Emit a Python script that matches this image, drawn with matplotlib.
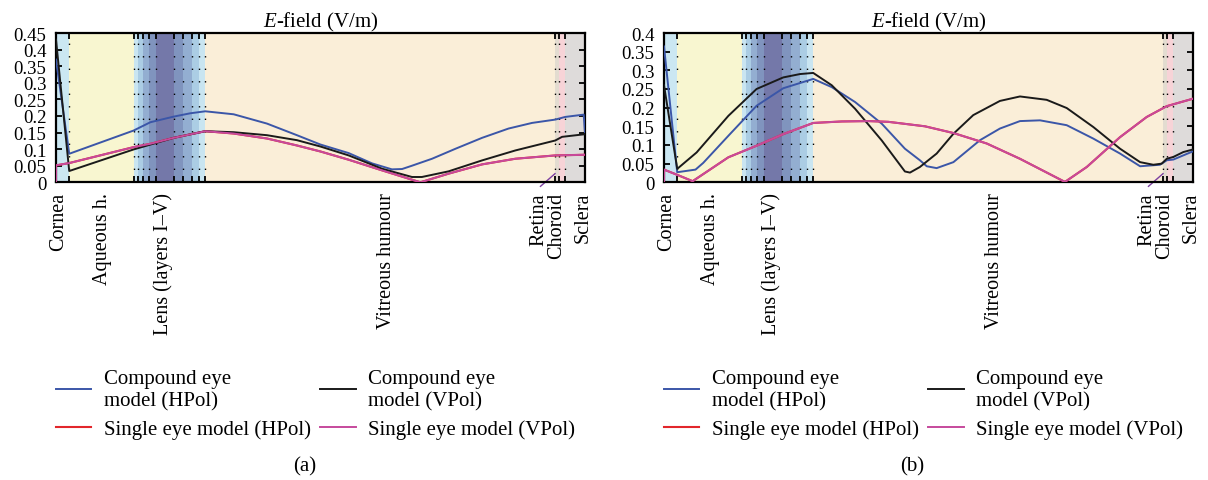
import matplotlib
matplotlib.use("Agg")
import matplotlib.pyplot as plt
import matplotlib.transforms as mtransforms

plt.rcParams['font.family'] = ['Liberation Serif', 'DejaVu Serif']
plt.rcParams['mathtext.fontset'] = 'custom'
plt.rcParams['mathtext.rm'] = 'Liberation Serif'
plt.rcParams['mathtext.it'] = 'Liberation Serif:italic'

# layer boundaries along the eye (mm)
bounds = [0, 0.60, 3.52, 3.71, 3.95, 4.20, 4.53, 5.36, 5.78, 6.17, 6.47, 6.77,
          22.64, 22.83, 23.11, 24.0]
band_colors = ['#cbe7f2', '#f8f6d0',
               '#c9e5f1', '#abcde4', '#93aed1', '#8094be', '#7478a9',
               '#8094be', '#93aed1', '#abcde4', '#c9e5f1',
               '#faeed8', '#e3dcd0', '#f7d3d7', '#dedbda']
layer_names = ['Cornea', 'Aqueous h.', 'Lens (layers I\u2013V)', 'Vitreous humour',
               'Retina', 'Choroid', 'Sclera']
label_x = [0.14, 2.12, 4.87, 15.0, 21.93, 22.70, 23.93]

# (a)
xa_comp_h = [0, 0.60, 3.52, 4.28, 5.34, 6.09, 6.77, 8.06, 9.57, 10.93, 11.99, 13.28,
             14.34, 15.24, 15.7, 16.15, 17.06, 18.12, 19.33, 20.53, 21.6, 22.65, 23.1,
             23.94, 24.0]
ya_comp_h = [0.37, 0.086, 0.156, 0.181, 0.198, 0.208, 0.214, 0.205, 0.177, 0.142, 0.114,
             0.088, 0.057, 0.039, 0.040, 0.050, 0.071, 0.101, 0.134, 0.162, 0.179, 0.189,
             0.197, 0.204, 0.151]
xa_comp_v = [0, 0.60, 3.52, 5.34, 6.77, 8.06, 9.57, 10.93, 11.99, 13.28, 14.79, 16.15,
             16.6, 17.81, 19.33, 20.84, 22.65, 22.96, 24.0]
ya_comp_v = [0.43, 0.034, 0.099, 0.134, 0.154, 0.151, 0.142, 0.127, 0.108, 0.081, 0.041,
             0.016, 0.016, 0.033, 0.066, 0.096, 0.126, 0.137, 0.145]
xa_single = [0, 0, 0.60, 3.52, 4.28, 5.34, 6.77, 8.06, 9.57, 10.93, 11.99, 13.28, 14.79,
             16.53, 17.81, 19.33, 20.84, 22.65, 24.0]
ya_single_h = [0, 0.051, 0.058, 0.106, 0.116, 0.134, 0.154, 0.147, 0.132, 0.111, 0.093,
               0.068, 0.036, 0.0, 0.026, 0.054, 0.071, 0.081, 0.083]
ya_single_v = [0, 0.051, 0.058, 0.106, 0.116, 0.134, 0.154, 0.147, 0.132, 0.111, 0.093,
               0.068, 0.036, 0.0, 0.026, 0.054, 0.071, 0.081, 0.083]

# (b)
xb_comp_h = [0, 0.60, 1.43, 1.78, 2.99, 4.2, 5.41, 6.77, 7.61, 8.67, 9.88, 10.93, 11.61,
             11.92, 12.37, 13.13, 14.34, 15.24, 16.15, 17.06, 18.27, 19.48, 20.69, 21.6,
             22.5, 22.81, 23.11, 24.0]
yb_comp_h = [0.364, 0.027, 0.034, 0.052, 0.129, 0.205, 0.252, 0.277, 0.255, 0.215, 0.157,
             0.09, 0.059, 0.043, 0.038, 0.054, 0.113, 0.144, 0.164, 0.166, 0.153, 0.117,
             0.077, 0.043, 0.047, 0.059, 0.061, 0.083]
xb_comp_v = [0, 0.60, 1.48, 2.92, 4.2, 5.41, 6.17, 6.77, 7.61, 8.67, 9.88, 10.93, 11.16,
             11.61, 12.37, 13.13, 14.03, 15.24, 16.15, 17.36, 18.27, 19.48, 20.69, 21.6,
             22.2, 22.58, 22.81, 23.11, 23.56, 24.0]
yb_comp_v = [0.26, 0.036, 0.08, 0.178, 0.25, 0.281, 0.290, 0.293, 0.26, 0.197, 0.112,
             0.029, 0.026, 0.041, 0.077, 0.130, 0.18, 0.218, 0.230, 0.221, 0.199, 0.148,
             0.09, 0.054, 0.047, 0.05, 0.063, 0.068, 0.081, 0.088]
xb_single = [0, 0, 0.60, 1.30, 2.92, 4.2, 5.41, 6.77, 8.06, 9.27, 10.18, 11.84, 13.13,
             14.64, 16.15, 18.19, 19.18, 20.69, 21.9, 22.81, 24.0]
yb_single_h = [0, 0.034, 0.02, 0.003, 0.067, 0.098, 0.129, 0.159, 0.163, 0.164, 0.162,
               0.15, 0.132, 0.104, 0.063, 0.001, 0.041, 0.121, 0.175, 0.204, 0.224]
yb_single_v = [0, 0.034, 0.02, 0.003, 0.067, 0.098, 0.129, 0.159, 0.163, 0.164, 0.162,
               0.15, 0.132, 0.104, 0.063, 0.001, 0.041, 0.121, 0.175, 0.204, 0.224]

BLUE = '#3b56a8'
BLACK = '#1a1a1a'
RED = '#e2262b'
MAGENTA = '#c64a9c'


def draw_panel(ax, ymax, series, tag, legend_x):
    for i in range(len(bounds) - 1):
        ax.axvspan(bounds[i], bounds[i + 1], color=band_colors[i], lw=0, zorder=0)
    for b in bounds[1:-1]:
        ax.axvline(b, color='black', lw=1, ls=(0, (1, 8)), zorder=1)

    (xh, yh), (xv, yv), (xs, ysh, ysv) = series
    ax.plot(xh, yh, color=BLUE, lw=1.4, label='Compound eye\nmodel (HPol)', zorder=3)
    ax.plot(xs, ysh, color=RED, lw=1.5, label='Single eye model (HPol)', zorder=3)
    ax.plot(xv, yv, color=BLACK, lw=1.4, label='Compound eye\nmodel (VPol)', zorder=3)
    ax.plot(xs, ysv, color=MAGENTA, lw=1.4, label='Single eye model (VPol)', zorder=4)

    ax.set_xlim(0, 24)
    ax.set_ylim(0, ymax)
    yt = [i * 0.05 for i in range(int(round(ymax / 0.05)) + 1)]
    ax.set_yticks(yt)
    ax.set_yticklabels(['0'] + ['%g' % round(v, 2) for v in yt[1:]])
    ax.set_xticks(bounds[1:-1])
    ax.set_xticklabels([])
    ax.tick_params(direction='in', length=4, width=1.3, top=True, right=True,
                   labelsize=13.5, pad=7)
    for s in ax.spines.values():
        s.set_linewidth(1.6)
    ax.set_title('$E$-field (V/m)', fontsize=15, pad=5)

    trans = mtransforms.blended_transform_factory(ax.transData, ax.transAxes)
    for name, x in zip(layer_names, label_x):
        ax.text(x, -0.065, name, rotation=90, ha='center', va='top', fontsize=14.5,
                transform=trans)
    # leader from the Retina label to its layer
    ax.plot([label_x[4] + 0.05, bounds[12]], [-0.027, 0.058], color='#7b3fa0', lw=1,
            transform=trans, clip_on=False)

    ax.legend(loc='upper left', bbox_to_anchor=(legend_x, -1.25), ncol=2, frameon=False,
              fontsize=15, handlelength=1.7, handletextpad=0.6, columnspacing=0.45,
              labelspacing=0.45, borderpad=0, borderaxespad=0)
    ax.text(0.47, -1.9, tag, transform=ax.transAxes, ha='center', va='center',
            fontsize=15)


fig = plt.figure(figsize=(12.08, 4.81), dpi=100)
ax1 = fig.add_axes([56 / 1208, 1 - 183.3 / 481, 529 / 1208, 149.3 / 481])
ax2 = fig.add_axes([664 / 1208, 1 - 183.3 / 481, 529 / 1208, 149.3 / 481])

draw_panel(ax1, 0.45, ((xa_comp_h, ya_comp_h), (xa_comp_v, ya_comp_v),
                       (xa_single, ya_single_h, ya_single_v)), '(a)', 0.0)
draw_panel(ax2, 0.40, ((xb_comp_h, yb_comp_h), (xb_comp_v, yb_comp_v),
                       (xb_single, yb_single_h, yb_single_v)), '(b)', 0.0)

fig.savefig('out.png', dpi=100)
